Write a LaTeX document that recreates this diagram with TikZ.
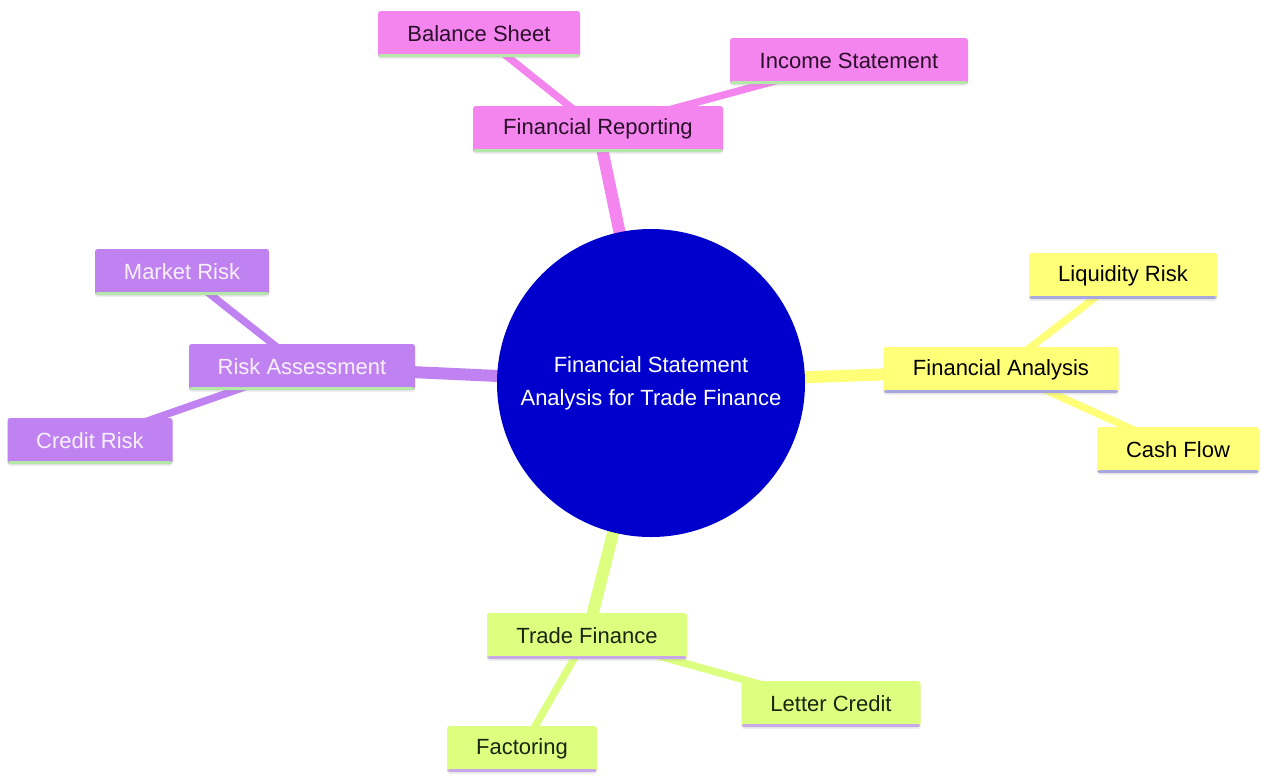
\documentclass[tikz,border=0pt]{standalone}
\usepackage{fontspec}
\setmainfont{Liberation Sans}
\usetikzlibrary{shadows}
\pgfdeclarelayer{bg}
\pgfsetlayers{bg,main}
\definecolor{pinkF}{HTML}{F585EE}
\definecolor{pinkT}{HTML}{2A0F2A}
\definecolor{purpF}{HTML}{BF82F0}
\definecolor{purpT}{HTML}{F8F0FF}
\definecolor{yellF}{HTML}{FFFF78}
\definecolor{greenF}{HTML}{DCFF80}
\definecolor{greenT}{HTML}{1A2410}
\definecolor{ulGreen}{HTML}{B4E8A8}
\definecolor{ulLav}{HTML}{A8A8E0}
\definecolor{ulLil}{HTML}{C8A8E8}
\definecolor{rootB}{HTML}{0000CC}
\begin{document}
\begin{tikzpicture}[x=0.75pt,y=-0.75pt,
  font=\fontsize{16.5}{20}\selectfont,
  box/.style={rounded corners=2pt, minimum height=34.5pt, inner sep=0pt,
    drop shadow={opacity=0.12, shadow xshift=0pt, shadow yshift=-1.5pt}},
  ul/.style={path picture={\fill[#1] ([yshift=2.2pt]path picture bounding box.south west) rectangle (path picture bounding box.south east);}},
  pinkbox/.style={box, fill=pinkF, text=pinkT, ul=ulGreen},
  purpbox/.style={box, fill=purpF, text=purpT, ul=ulGreen},
  yellbox/.style={box, fill=yellF, text=black, ul=ulLav},
  greenbox/.style={box, fill=greenF, text=greenT, ul=ulLil},
  trunk/.style={line width=9pt},
  twig/.style={line width=5.5pt}
]
% root
\node[circle, fill=rootB, minimum size=231pt, inner sep=0pt, text=white, align=center,
  font=\fontsize{16.5}{25}\selectfont] (root) at (651,383) {Financial Statement\\Analysis for Trade Finance};
% financial reporting
\node[pinkbox, minimum width=187.5pt] (fr) at (598,129) {Financial Reporting};
\node[pinkbox, minimum width=151.5pt] (bs) at (479,34) {Balance Sheet};
\node[pinkbox, minimum width=178.5pt] (is) at (849,61) {Income Statement};
% risk assessment
\node[purpbox, minimum width=169.5pt] (ra) at (302,367) {Risk Assessment};
\node[purpbox, minimum width=130.5pt] (mr) at (182,272) {Market Risk};
\node[purpbox, minimum width=123.75pt] (cr) at (90,441) {Credit Risk};
% financial analysis
\node[yellbox, minimum width=176.25pt] (fa) at (1001,370) {Financial Analysis};
\node[yellbox, minimum width=141pt] (lr) at (1123,276) {Liquidity Risk};
\node[yellbox, minimum width=121.5pt] (cf) at (1178,450) {Cash Flow};
% trade finance
\node[greenbox, minimum width=150pt] (tf) at (587,636) {Trade Finance};
\node[greenbox, minimum width=134.25pt] (lc) at (831,704) {Letter Credit};
\node[greenbox, minimum width=112.5pt] (fc) at (522,749) {Factoring};
% edges
\begin{pgfonlayer}{bg}
\fill[white] (0,0) rectangle (1261,776);
\draw[trunk, pinkF] (root.center) -- (fr.center);
\draw[trunk, purpF] (root.center) -- (ra.center);
\draw[trunk, yellF] (root.center) -- (fa.center);
\draw[trunk, greenF] (root.center) -- (tf.center);
\draw[twig, pinkF] (fr.center) -- (bs.center);
\draw[twig, pinkF] (fr.center) -- (is.center);
\draw[twig, purpF] (ra.center) -- (mr.center);
\draw[twig, purpF] (ra.center) -- (cr.center);
\draw[twig, yellF] (fa.center) -- (lr.center);
\draw[twig, yellF] (fa.center) -- (cf.center);
\draw[twig, greenF] (tf.center) -- (lc.center);
\draw[twig, greenF] (tf.center) -- (fc.center);
\end{pgfonlayer}
\useasboundingbox (0,0) rectangle (1261,776);
\end{tikzpicture}
\end{document}
